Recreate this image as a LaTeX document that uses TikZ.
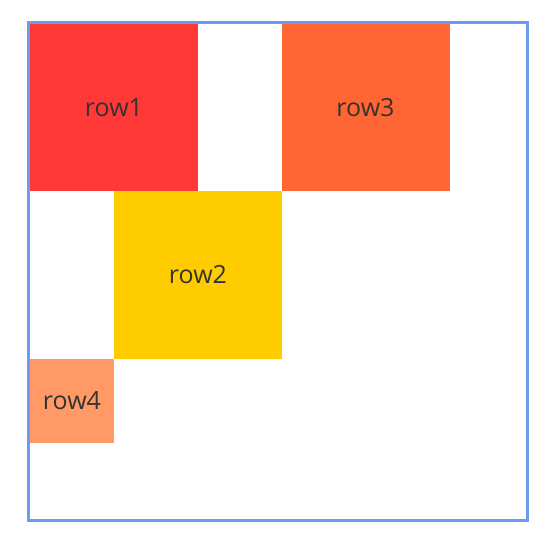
\documentclass[tikz,border=0pt]{standalone}
\usepackage{fontspec}
\setmainfont{Open Sans}
\definecolor{framec}{HTML}{6E9BF2}
\definecolor{c1}{HTML}{FF3838}
\definecolor{c2}{HTML}{FFCC00}
\definecolor{c3}{HTML}{FF6633}
\definecolor{c4}{HTML}{FF9966}
\definecolor{txt}{HTML}{333333}
\begin{document}
\begin{tikzpicture}[x=1pt,y=-1pt,
  cell/.style={inner sep=0pt,outer sep=0pt,text=txt,font=\fontsize{25}{30}\selectfont,anchor=north west}]
\useasboundingbox (0,0) rectangle (557,548);
\node[cell,fill=c1,minimum width=168pt,minimum height=167pt] (row1) at (30,24) {row1};
\node[cell,fill=c3,minimum width=168pt,minimum height=167pt] (row3) at (281.5,24) {row3};
\node[cell,fill=c2,minimum width=168pt,minimum height=168pt] (row2) at (114,191) {row2};
\node[cell,fill=c4,minimum width=84pt,minimum height=84pt] (row4) at (30,359) {row4};
\draw[framec,line width=3pt] (28.5,22.5) rectangle (527.5,520.5);
\end{tikzpicture}
\end{document}
